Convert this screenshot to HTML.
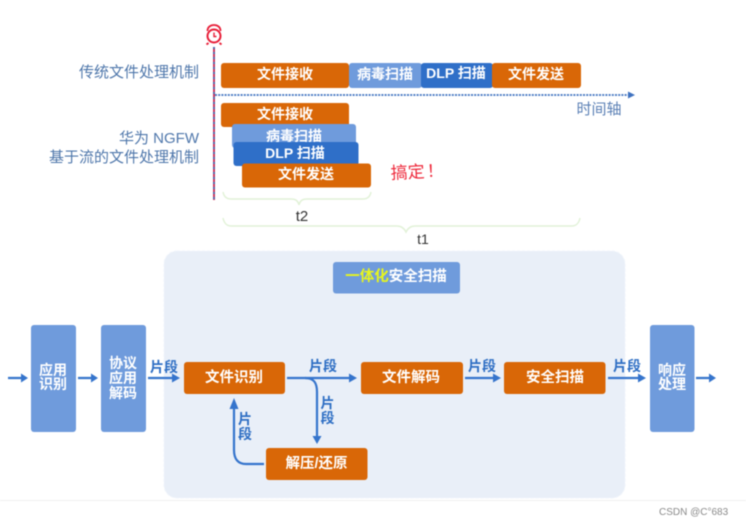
<!DOCTYPE html>
<html>
<head>
<meta charset="utf-8">
<style>
html,body{margin:0;padding:0;background:#fff;width:746px;height:525px;overflow:hidden}
svg{display:block;filter:blur(.4px)}
text{font-family:"Liberation Sans","Noto Sans CJK SC",sans-serif}
.w{fill:#fff;font-weight:700;text-anchor:middle}
.l{fill:#4f77ab;font-size:15px;text-anchor:end}
.b{fill:#2f6fc4;font-size:14px;font-weight:700;text-anchor:middle}
.o{fill:#d96707}
.a{stroke:#3574cc;stroke-width:2.2;fill:none}
.h{fill:#3574cc}
</style>
</head>
<body>
<svg width="746" height="525" viewBox="0 0 746 525" xmlns="http://www.w3.org/2000/svg">
<rect width="746" height="525" fill="#fff"/>
<!-- alarm -->
<g stroke="#e8203a" fill="none" stroke-width="2">
<circle cx="214" cy="36" r="6.500"/>
<path d="M207.500 31c0-4 3-6 6.500-6s6.500 2 6.500 6" stroke-width="1.800"/>
<path d="M208.500 43l-2 1.500M219.500 43l2 1.500"/>
<path d="M214 32.500v4h2.500" stroke-width="1.400"/>
</g>
<!-- vertical line -->
<line x1="214" y1="47" x2="214" y2="200" stroke="#c8234f" stroke-width="1.800"/>
<line x1="214" y1="47" x2="214" y2="200" stroke="#3f6fb5" stroke-width="1.800" stroke-dasharray="2 3"/>
<!-- axis -->
<line x1="215" y1="95" x2="629" y2="95" stroke="#3f72c0" stroke-width="1.800" stroke-dasharray="2 1.200"/>
<path d="M628 91.500l7 3.500-7 3.500z" fill="#3f72c0"/>
<text x="599" y="114" style="fill:#5b80b5;font-size:15px;text-anchor:middle">时间轴</text>
<!-- left labels -->
<text x="199" y="77" class="l">传统文件处理机制</text>
<text x="199" y="143" class="l">华为 NGFW</text>
<text x="199" y="162" class="l">基于流的文件处理机制</text>
<!-- top row -->
<rect x="221" y="63" width="128" height="25" rx="3" class="o"/>
<text x="285" y="79" class="w" font-size="14">文件接收</text>
<rect x="349" y="63" width="73" height="25" rx="3" fill="#6f9bdc"/>
<text x="385" y="79" class="w" font-size="14">病毒扫描</text>
<rect x="421" y="63" width="72" height="25" rx="3" fill="#2f6fc8"/>
<text x="456" y="78" class="w" font-size="14">DLP 扫描</text>
<rect x="492" y="63" width="89" height="25" rx="3" class="o"/>
<text x="536" y="79" class="w" font-size="14">文件发送</text>
<!-- stack -->
<rect x="221" y="103" width="128" height="24" rx="3" class="o"/>
<text x="285" y="119" class="w" font-size="14">文件接收</text>
<rect x="232" y="124" width="124" height="24" rx="3" fill="#6f9bdc"/>
<text x="294" y="141" class="w" font-size="14">病毒扫描</text>
<rect x="233.500" y="142" width="125" height="24" rx="3" fill="#2f6fc8"/>
<text x="295" y="158" class="w" font-size="14">DLP 扫描</text>
<rect x="242" y="163.500" width="129" height="24" rx="3" class="o"/>
<text x="306" y="179" class="w" font-size="14">文件发送</text>
<text x="391" y="179" transform="rotate(-3 391 178)" style="fill:#ee2a3c;font-size:17px">搞定<tspan dx="2">！</tspan></text>
<!-- braces -->
<path d="M223 192c1 5 4 7 8 7h60c5 0 7 2 8 6 1-4 3-6 8-6h56c4 0 7-2 8-7" fill="none" stroke="#e2f2d8" stroke-width="1.500"/>
<text x="302" y="221" style="fill:#333;font-size:15px;text-anchor:middle">t2</text>
<path d="M223 218c1 5 4 8 8 8h166c4 0 7 2 9 6 2-4 5-6 9-6h157c4 0 7-3 8-8" fill="none" stroke="#e2f2d8" stroke-width="1.500"/>
<text x="423" y="244" style="fill:#333;font-size:14px;text-anchor:middle">t1</text>
<!-- panel -->
<rect x="164" y="251" width="461" height="247" rx="13" fill="#e9eff8" stroke="#f0f4fb" stroke-dasharray="3 2"/>
<rect x="333" y="262" width="127" height="31.500" rx="3" fill="#6f9bdc"/>
<text x="396" y="281" style="font-size:14.500px;font-weight:700;text-anchor:middle;fill:#fff"><tspan fill="#e6f51e">一体化</tspan>安全扫描</text>
<!-- tall boxes -->
<rect x="31" y="325" width="45" height="107" rx="3" fill="#6f9bdc"/>
<text x="53" y="375" class="w" font-size="14">应用</text>
<text x="53" y="389" class="w" font-size="14">识别</text>
<rect x="101" y="325" width="45" height="107" rx="3" fill="#6f9bdc"/>
<text x="123" y="368" class="w" font-size="14">协议</text>
<text x="123" y="383" class="w" font-size="14">应用</text>
<text x="123" y="398" class="w" font-size="14">解码</text>
<rect x="650" y="325" width="44.500" height="107" rx="3" fill="#6f9bdc"/>
<text x="672" y="375" class="w" font-size="14">响应</text>
<text x="672" y="389" class="w" font-size="14">处理</text>
<!-- orange -->
<rect x="184" y="362" width="101" height="32" rx="3" class="o"/>
<text x="234" y="382" class="w" font-size="14.500">文件识别</text>
<rect x="361" y="362" width="102" height="32" rx="3" class="o"/>
<text x="411" y="382" class="w" font-size="14.500">文件解码</text>
<rect x="504" y="362" width="101.500" height="32" rx="3" class="o"/>
<text x="555" y="382" class="w" font-size="14.500">安全扫描</text>
<rect x="266" y="448" width="101.500" height="32" rx="3" class="o"/>
<text x="316.500" y="468" class="w" font-size="14.500">解压/还原</text>
<!-- arrows -->
<path class="a" d="M8 378h15M78 378h15M148 378h26M287 378h64M465 378h30M608 378h32M696 378h15"/>
<path class="h" d="M21 373.500l7 4.500-7 4.500zM91 373.500l7 4.500-7 4.500zM172 373.500l8 4.500-8 4.500zM349 373.500l8 4.500-8 4.500zM493 373.500l8 4.500-8 4.500zM638 373.500l8 4.500-8 4.500zM709 373.500l7 4.500-7 4.500z"/>
<path class="a" d="M305 378c9 0 12 5 12 14v46"/>
<path class="h" d="M312.500 436l4.500 8 4.500-8z"/>
<path class="a" d="M264 464h-18c-8 0-12-5-12-14v-42"/>
<path class="h" d="M229.500 409l4.500-11 4.500 11z"/>
<!-- segment labels -->
<text x="164" y="372" class="b">片段</text>
<text x="323" y="371" class="b">片段</text>
<text x="482" y="371" class="b">片段</text>
<text x="627" y="371" class="b">片段</text>
<text x="327.500" y="408" class="b">片</text>
<text x="327.500" y="423" class="b">段</text>
<text x="245" y="424" class="b">片</text>
<text x="245" y="439" class="b">段</text>
<!-- footer -->
<line x1="0" y1="500.500" x2="746" y2="500.500" stroke="#f0f0f0"/>
<text x="659" y="515" style="fill:#8a8a8a;font-size:10px">CSDN @C°683</text>
</svg>
</body>
</html>
